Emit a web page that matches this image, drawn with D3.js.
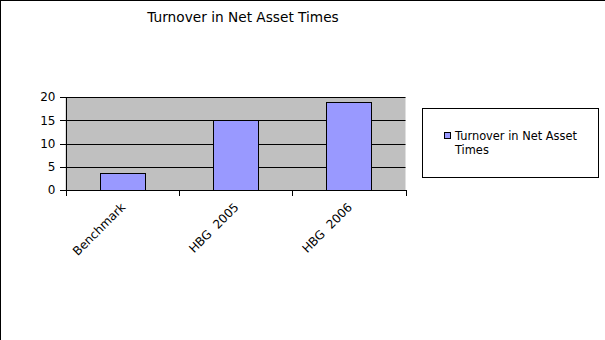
<!DOCTYPE html>
<html lang="en">
<head>
<meta charset="utf-8">
<title>Turnover in Net Asset Times</title>
<script src="https://cdn.jsdelivr.net/npm/d3@7"></script>
<style>
  body { margin: 0; background: #fff; }
  text { font-family: "DejaVu Sans", sans-serif; fill: #000; white-space: pre; }
  .axis path, .axis line { stroke: #000; shape-rendering: crispEdges; }
</style>
</head>
<body>
<script>
var categories = ["Benchmark", "HBG  2005", "HBG  2006"];
var values = [3.6, 15.0, 18.9];
var yTicks = [0, 5, 10, 15, 20];
var seriesName = "Turnover in Net Asset Times";

var w = 605, h = 340;
var plot = { left: 65.5, right: 405.5, top: 97, bottom: 190 };

var svg = d3.select("body").append("svg")
  .attr("width", w).attr("height", h);

// outer border (only top + left fall inside the picture)
svg.append("rect")
  .attr("x", 0.5).attr("y", 0.5)
  .attr("width", w + 10).attr("height", h + 10)
  .attr("fill", "none").attr("stroke", "#000");

svg.append("text")
  .attr("x", 243).attr("y", 22)
  .attr("text-anchor", "middle")
  .style("font-size", "13.7px")
  .text(seriesName);

var x = d3.scaleBand()
  .domain(categories)
  .range([plot.left, plot.right])
  .paddingInner(0.6).paddingOuter(0.3);

var y = d3.scaleLinear()
  .domain([0, 20])
  .range([plot.bottom, plot.top]);

// plot background
svg.append("rect")
  .attr("x", plot.left).attr("y", plot.top)
  .attr("width", plot.right - plot.left).attr("height", plot.bottom - plot.top)
  .attr("fill", "#c0c0c0");

// gridlines
svg.append("g").selectAll("line")
  .data(yTicks)
  .enter().append("line")
  .attr("x1", plot.left).attr("x2", plot.right)
  .attr("y1", function(d){ return Math.round(y(d)) + 0.5; })
  .attr("y2", function(d){ return Math.round(y(d)) + 0.5; })
  .attr("stroke", "#000");

// bars
svg.append("g").selectAll("rect")
  .data(values)
  .enter().append("rect")
  .attr("x", function(d, i){ return Math.round(x(categories[i])) + 0.5; })
  .attr("y", function(d){ return Math.round(y(d)) + 0.5; })
  .attr("width", Math.round(x.bandwidth()))
  .attr("height", function(d){ return Math.round(y(0)) - Math.round(y(d)); })
  .attr("fill", "#9999ff")
  .attr("stroke", "#000");

// y axis
var yAxis = svg.append("g")
  .attr("class", "axis")
  .attr("transform", "translate(" + plot.left + ",0)")
  .call(d3.axisLeft(y).tickValues(yTicks).tickSizeOuter(0).tickSize(6).tickPadding(4));
yAxis.selectAll("text").style("font-size", "12px").style("font-family", "DejaVu Sans");

// x axis: ticks at category boundaries
var step = x.step();
var bounds = [plot.left].concat(categories.slice(0, -1).map(function(c){
  return x(c) + x.bandwidth() + step * x.paddingInner() / 2;
})).concat([plot.right]);

var xAxis = svg.append("g").attr("class", "axis");
xAxis.append("line")
  .attr("x1", plot.left).attr("x2", plot.right)
  .attr("y1", Math.round(y(0)) + 0.5).attr("y2", Math.round(y(0)) + 0.5);
xAxis.selectAll(".tk")
  .data(bounds)
  .enter().append("line")
  .attr("class", "tk")
  .attr("x1", function(d){ return Math.round(d) + 0.5; })
  .attr("x2", function(d){ return Math.round(d) + 0.5; })
  .attr("y1", Math.round(y(0))).attr("y2", Math.round(y(0)) + 6);

xAxis.selectAll("text")
  .data(categories)
  .enter().append("text")
  .attr("transform", function(d){
    var cx = x(d) + x.bandwidth() / 2 + 4;
    return "translate(" + cx + "," + 208 + ") rotate(-45)";
  })
  .attr("text-anchor", "end")
  .style("font-size", "12px")
  .text(function(d){ return d; });

// legend
var lg = svg.append("g");
lg.append("rect")
  .attr("x", 422.5).attr("y", 108.5)
  .attr("width", 176).attr("height", 69)
  .attr("fill", "#fff").attr("stroke", "#000");
lg.append("rect")
  .attr("x", 444.5).attr("y", 132.5)
  .attr("width", 6).attr("height", 6)
  .attr("fill", "#9999ff").attr("stroke", "#000");
var lt = lg.append("text")
  .attr("x", 455).attr("y", 140)
  .style("font-size", "11.4px");
lt.append("tspan").attr("x", 455).text("Turnover in Net Asset");
lt.append("tspan").attr("x", 455).attr("dy", 13.5).text("Times");
</script>
</body>
</html>
